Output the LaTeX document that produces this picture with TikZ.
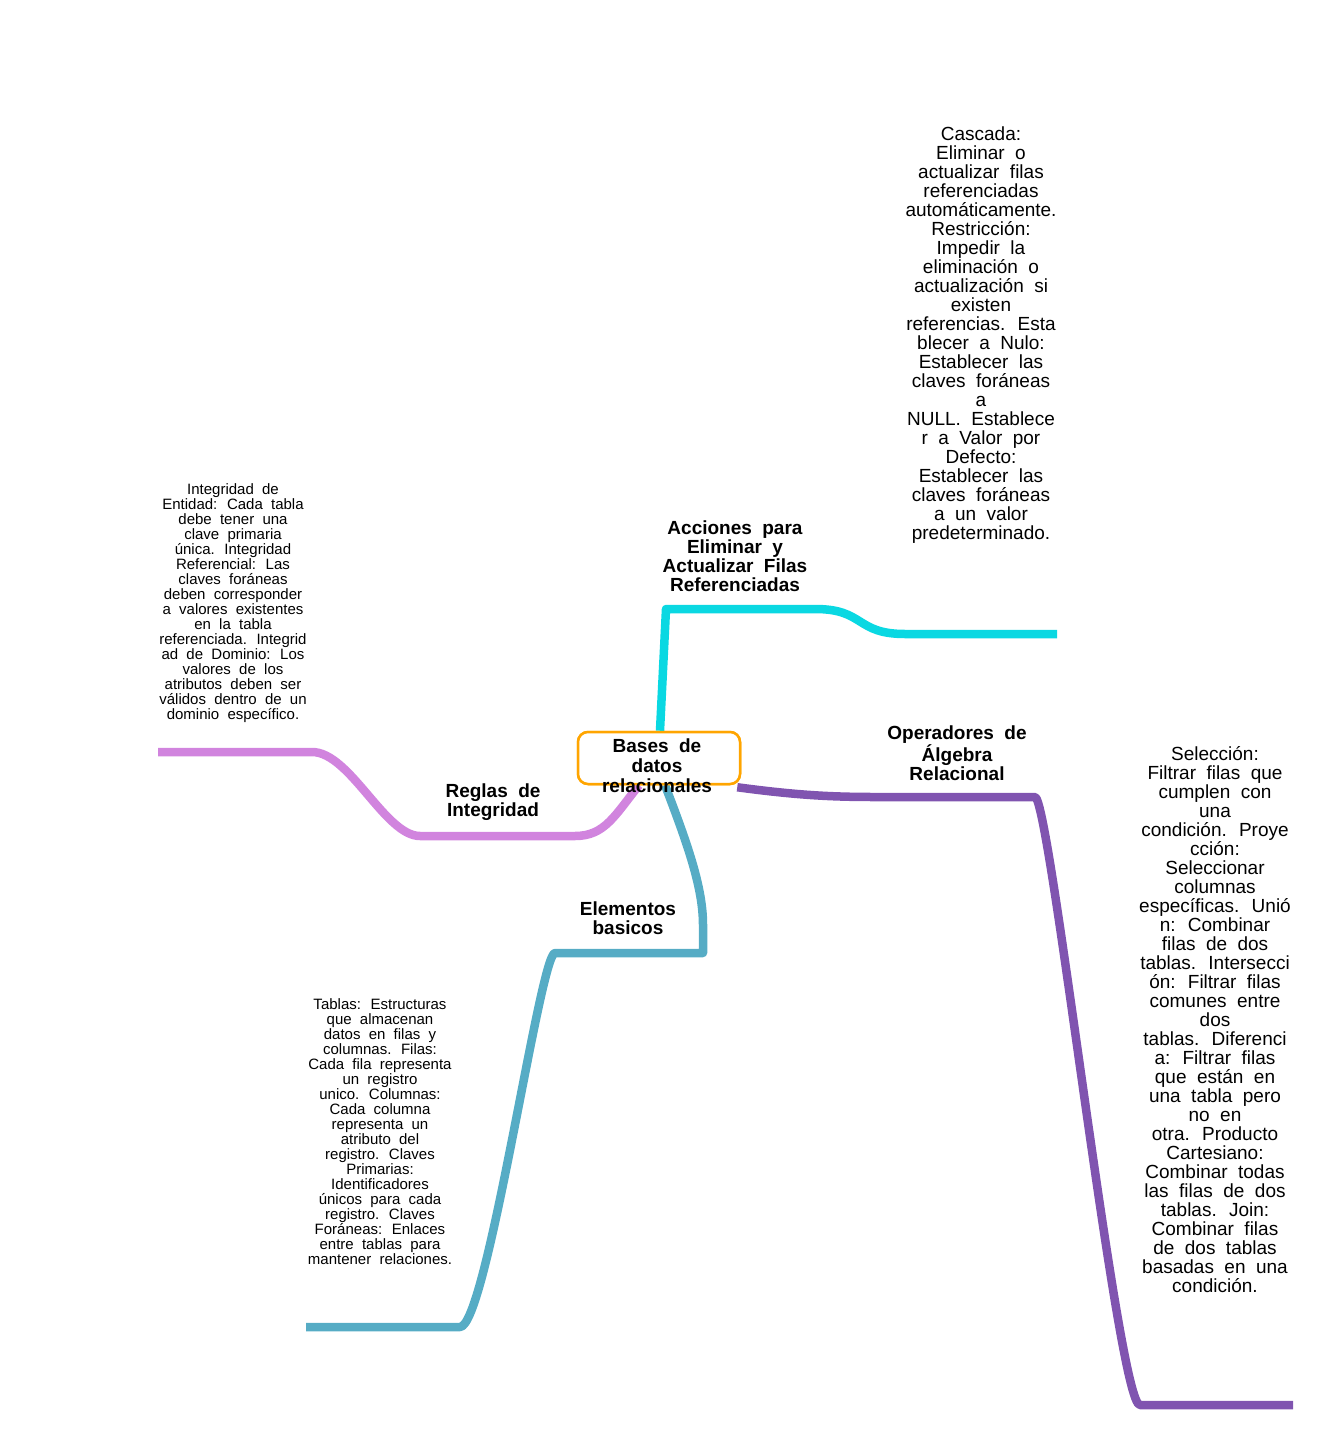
\documentclass[tikz,border=0pt]{standalone}
\usepackage{fontspec}
\setmainfont{Liberation Sans}
\definecolor{bcyan}{RGB}{10,216,226}
\definecolor{bpink}{RGB}{209,132,222}
\definecolor{bteal}{RGB}{86,172,197}
\definecolor{bpurple}{RGB}{128,84,176}
\definecolor{borange}{RGB}{255,165,0}
\newcommand\widesp{\spaceskip=0.55em\relax}
\begin{document}
\begin{tikzpicture}[x=1pt,y=-1pt,
  branch/.style={line width=8.5pt,line join=round},
  rootbox/.style={draw=borange,line width=2.5pt,rounded corners=10pt,fill=white,minimum width=162pt,minimum height=52pt,inner sep=0pt},
  bigtxt/.style={align=center,inner sep=0pt,font={\fontsize{19}{19}\selectfont\widesp}},
  smalltxt/.style={align=center,inner sep=0pt,font={\fontsize{15}{15}\selectfont\widesp}},
  lbl/.style={align=center,inner sep=0pt,font={\bfseries\fontsize{19}{19}\selectfont\widesp}},
  rootlbl/.style={align=center,inner sep=0pt,font={\bfseries\fontsize{19}{20}\selectfont\widesp}}]
\useasboundingbox (0,0) rectangle (1318,1434);

\node[rootbox] (root) at (659,758) {};

% coordinates of branch ends
\coordinate (cA) at (666,609);
\coordinate (cB) at (815,609);
\coordinate (cC) at (905,634);
\coordinate (cEnd) at (1057,634);

\coordinate (pA) at (575,836);
\coordinate (pB) at (420,836);
\coordinate (pC) at (312,752);
\coordinate (pEnd) at (158,752);

\coordinate (tA) at (703,953);
\coordinate (tB) at (555,953);
\coordinate (tC) at (460,1327);
\coordinate (tEnd) at (306,1327);

\coordinate (uA) at (875,797);
\coordinate (uB) at (1035,797);
\coordinate (uC) at (1140,1405);
\coordinate (uEnd) at (1293,1405);

% branches
\draw[branch,bcyan] ([xshift=1pt]root.north) -- (cA) -- (cB)
  .. controls (865,609) and (855,634) .. (cC) -- (cEnd);
\draw[branch,bpink] ([xshift=-20pt]root.south) .. controls (615,815) and (605,836) .. (pA) -- (pB)
  .. controls (385,836) and (350,752) .. (pC) -- (pEnd);
\draw[branch,bteal] ([xshift=6pt]root.south) .. controls (690,850) and (703,890) .. (703,925) -- (tA) -- (tB)
  .. controls (540,953) and (487,1327) .. (tC) -- (tEnd);
\draw[branch,bpurple] ([xshift=-4pt,yshift=-2pt]root.south east) .. controls (795,795) and (830,797) .. (uA) -- (uB)
  .. controls (1050,797) and (1118,1405) .. (uC) -- (uEnd);

\node[rootbox] at (root) {};
\node[rootlbl] (rootText) at (657,766) {Bases de\\datos\\relacionales};

% labels
\node[lbl] (lAcc) at (735,556) {Acciones para\\Eliminar y\\Actualizar Filas\\Referenciadas};
\node[lbl] (lOp) at (957,753) {Operadores de\\Álgebra\\Relacional};
\node[lbl] (lReg) at (493,802) {Reglas de\\Integridad};
\node[lbl] (lEle) at (628,918) {Elementos\\basicos};

% detail texts
\node[bigtxt] (dAcc) at (981,335) {Cascada:\\Eliminar o\\actualizar filas\\referenciadas\\automáticamente.\\Restricción:\\Impedir la\\eliminación o\\actualización si\\existen\\referencias. Esta\\blecer a Nulo:\\Establecer las\\claves foráneas\\a\\NULL. Establece\\r a Valor por\\Defecto:\\Establecer las\\claves foráneas\\a un valor\\predeterminado.};

\node[bigtxt] (dOp) at (1215,1020) {Selección:\\Filtrar filas que\\cumplen con\\una\\condición. Proye\\cción:\\Seleccionar\\columnas\\específicas. Unió\\n: Combinar\\filas de dos\\tablas. Intersecci\\ón: Filtrar filas\\comunes entre\\dos\\tablas. Diferenci\\a: Filtrar filas\\que están en\\una tabla pero\\no en\\otra. Producto\\Cartesiano:\\Combinar todas\\las filas de dos\\tablas. Join:\\Combinar filas\\de dos tablas\\basadas en una\\condición.};

\node[smalltxt] (dReg) at (233,603) {Integridad de\\Entidad: Cada tabla\\debe tener una\\clave primaria\\única. Integridad\\Referencial: Las\\claves foráneas\\deben corresponder\\a valores existentes\\en la tabla\\referenciada. Integrid\\ad de Dominio: Los\\valores de los\\atributos deben ser\\válidos dentro de un\\dominio específico.};

\node[smalltxt] (dEle) at (380,1132) {Tablas: Estructuras\\que almacenan\\datos en filas y\\columnas. Filas:\\Cada fila representa\\un registro\\unico. Columnas:\\Cada columna\\representa un\\atributo del\\registro. Claves\\Primarias:\\Identificadores\\únicos para cada\\registro. Claves\\Foráneas: Enlaces\\entre tablas para\\mantener relaciones.};
\end{tikzpicture}
\end{document}
